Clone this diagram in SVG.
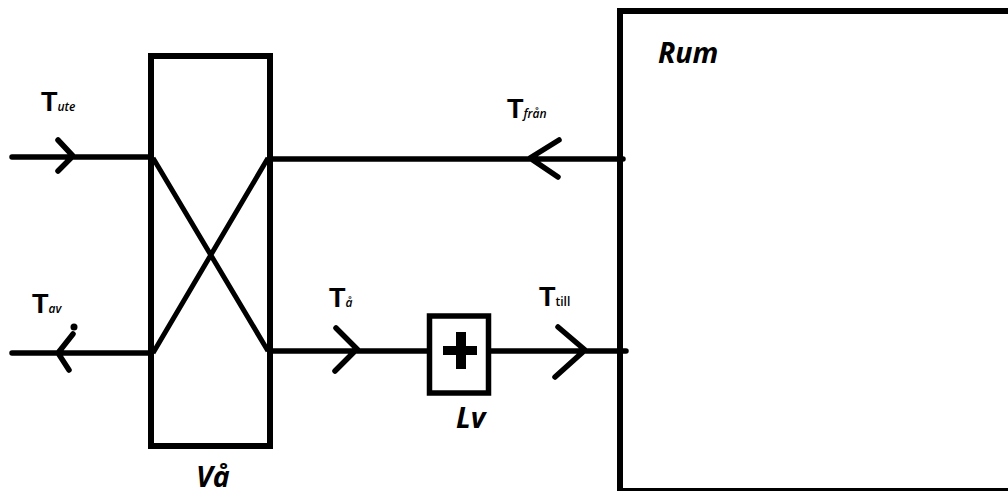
<svg xmlns="http://www.w3.org/2000/svg" width="1008" height="491" viewBox="0 0 1008 491">
<style>
.l{fill:none;stroke:#000;stroke-width:5.5;stroke-linecap:round;stroke-linejoin:miter}
.b{fill:none;stroke:#000;stroke-width:6}
text{font-family:"Open Sans","Liberation Sans",sans-serif;fill:#000}
.T{font-size:27px;font-weight:700;font-family:"Liberation Sans",sans-serif}
.s{font-size:12px;font-weight:600;font-style:italic}
.n{font-size:28.500px;font-weight:700;font-style:italic}
</style>
<rect width="1008" height="491" fill="#fff"/>
<g id="connectors">
<path class="l" d="M12 157H151M58 140L73 156L58 171"/>
<path class="l" d="M12 353H151M73 334L58 353L69 370"/>
<circle cx="74" cy="327" r="3.5"/>
<path class="l" d="M270 159H623M559 140L530 158L558 177"/>
<path class="l" d="M270 351H429M336 328L357 349L335 371"/>
<path class="l" d="M489 351H626M558 327L585 350L555 377"/>
</g>
<g id="va">
<rect class="b" x="151" y="56" width="119" height="390"/>
<path class="b" style="stroke-width:5" d="M153 158L268 351M268 158L153 353"/>
<text class="n" x="196" y="487">Vå</text>
</g>
<g id="lv">
<rect class="b" style="stroke-width:5.5" x="429.500" y="316" width="59" height="77"/>
<path d="M456 332H466V346H477V355H466V369H456V355H443V346H456Z"/>
<text class="n" x="456" y="428">Lv</text>
</g>
<g id="rum">
<path class="b" d="M1011 11H620V491H1011"/>
<text class="n" x="658" y="63">Rum</text>
</g>
<g id="labels">
<text x="41" y="111"><tspan class="T">T</tspan><tspan class="s">ute</tspan></text>
<text x="32" y="313"><tspan class="T">T</tspan><tspan class="s">av</tspan></text>
<text x="329" y="307"><tspan class="T">T</tspan><tspan class="s">å</tspan></text>
<text x="539" y="306"><tspan class="T">T</tspan><tspan class="s" style="font-style:normal">till</tspan></text>
<text x="507" y="118"><tspan class="T">T</tspan><tspan class="s">från</tspan></text>
</g>
</svg>
